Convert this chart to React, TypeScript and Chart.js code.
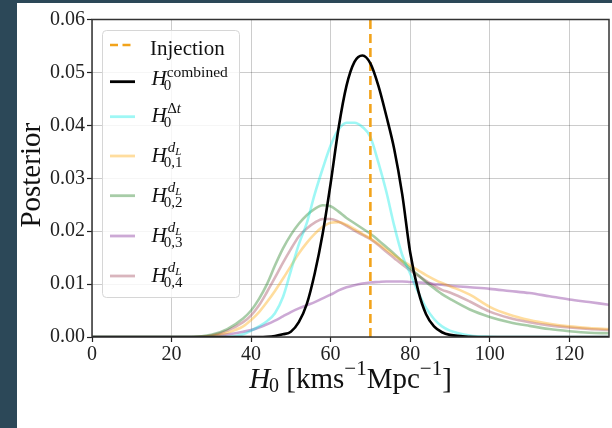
import React, { useEffect, useRef } from 'react';
import { Chart, registerables } from 'chart.js';

Chart.register(...registerables);

// ---------- data ----------
const H0_GRID = [0, 10, 20, 25, 30, 34, 38, 40, 42, 44, 46, 48, 50, 52, 54, 56, 58, 60, 62, 64, 66, 68, 70, 72, 74, 76, 78, 80, 82, 84, 86, 88, 90, 95, 100, 105, 110, 115, 120, 125, 130];

const COMBINED = [0, 0, 0, 0, 0, 0, 0, 0, 0, 0.00005, 0.0002, 0.0005, 0.001, 0.0028, 0.0062, 0.012, 0.0195, 0.029, 0.0395, 0.0475, 0.052, 0.0532, 0.0517, 0.0475, 0.0418, 0.0355, 0.027, 0.016, 0.0088, 0.0043, 0.002, 0.0009, 0.0004, 0.00005, 0, 0, 0, 0, 0, 0, 0];
const DELTA_T = [0, 0, 0, 0, 0, 0, 0.0005, 0.0012, 0.002, 0.003, 0.0045, 0.0075, 0.0125, 0.0175, 0.0215, 0.027, 0.0318, 0.0362, 0.0392, 0.0405, 0.0405, 0.0397, 0.0378, 0.033, 0.0275, 0.021, 0.0155, 0.012, 0.0085, 0.0055, 0.0034, 0.002, 0.0012, 0.0003, 0.00005, 0, 0, 0, 0, 0, 0];
const DL_1 = [0, 0, 0, 0, 0.0002, 0.0008, 0.002, 0.0032, 0.0047, 0.0066, 0.0087, 0.011, 0.0134, 0.0158, 0.0178, 0.0195, 0.0208, 0.0216, 0.0217, 0.0212, 0.0204, 0.0195, 0.0186, 0.0176, 0.0165, 0.0154, 0.0144, 0.0135, 0.0126, 0.0117, 0.0109, 0.0102, 0.0096, 0.008, 0.0057, 0.0042, 0.0032, 0.0025, 0.002, 0.0017, 0.0015];
const DL_2 = [0, 0, 0, 0, 0.0004, 0.0015, 0.0035, 0.005, 0.0072, 0.01, 0.0135, 0.0167, 0.0193, 0.0214, 0.023, 0.0242, 0.0249, 0.0247, 0.0237, 0.0225, 0.0215, 0.0205, 0.0195, 0.0183, 0.017, 0.0157, 0.0143, 0.013, 0.0117, 0.0104, 0.0092, 0.0081, 0.0072, 0.0052, 0.0038, 0.0028, 0.0021, 0.0015, 0.0011, 0.0008, 0.0007];
const DL_3 = [0, 0, 0, 0, 0.0002, 0.0005, 0.001, 0.0013, 0.0018, 0.0024, 0.0031, 0.0039, 0.0047, 0.0054, 0.006, 0.0066, 0.0073, 0.008, 0.0088, 0.0094, 0.0098, 0.0101, 0.0103, 0.0104, 0.0105, 0.0105, 0.0105, 0.0104, 0.0103, 0.0102, 0.01, 0.0099, 0.0097, 0.0094, 0.0091, 0.0087, 0.0083, 0.0077, 0.0071, 0.0066, 0.0061];
const DL_4 = [0, 0, 0, 0, 0.0003, 0.0012, 0.0028, 0.0041, 0.006, 0.0085, 0.0112, 0.014, 0.0166, 0.019, 0.0205, 0.0216, 0.0223, 0.0223, 0.0218, 0.021, 0.0201, 0.0193, 0.0185, 0.0174, 0.0161, 0.0149, 0.0137, 0.0126, 0.0116, 0.0106, 0.0097, 0.0089, 0.0084, 0.0067, 0.0048, 0.0036, 0.0028, 0.0022, 0.0018, 0.0015, 0.0013];

const INJECTION_H0 = 70;
const X_TICKS = [0, 20, 40, 60, 80, 100, 120];
const Y_TICKS = [0, 0.01, 0.02, 0.03, 0.04, 0.05, 0.06];
const SERIES_LABELS = ['Injection', 'H0^combined', 'H0^Δt', 'H0,1^dL', 'H0,2^dL', 'H0,3^dL', 'H0,4^dL'];
const SERIES_COLORS = ['#f2a31b', '#000000', 'rgba(0,235,230,0.38)', 'rgba(255,165,0,0.38)', 'rgba(34,128,34,0.4)', 'rgba(128,40,150,0.4)', 'rgba(160,70,90,0.4)'];

// ---------- helpers ----------
const SERIF = '"Liberation Serif", "DejaVu Serif", serif';
const fnt = (size: number, italic = false) => `${italic ? 'italic ' : ''}${size}px ${SERIF}`;

function drawLegendLabel(ctx: CanvasRenderingContext2D, label: string, x: number, y: number) {
  const m = label.match(/^H([^\^]+)\^(.+)$/);
  ctx.fillStyle = '#111';
  ctx.textAlign = 'left';
  ctx.textBaseline = 'alphabetic';
  if (!m) {
    ctx.font = fnt(21);
    ctx.fillText(label, x, y);
    return;
  }
  const sub = m[1];
  const sup = m[2];
  ctx.font = fnt(21, true);
  ctx.fillText('H', x + 1.5, y);
  const xs = x + 1.5 + ctx.measureText('H').width;
  const supShift = sup === 'dL' ? 10 : 8.5;
  if (sup === 'dL') {
    ctx.font = fnt(15, true);
    ctx.fillText('d', xs + 1, y - supShift);
    const w = ctx.measureText('d').width;
    ctx.font = fnt(11, true);
    ctx.fillText('L', xs + 1 + w, y - supShift + 3);
  } else if (sup === 'Δt') {
    ctx.font = fnt(15);
    ctx.fillText('Δ', xs + 0.5, y - supShift);
    const w = ctx.measureText('Δ').width;
    ctx.font = fnt(15, true);
    ctx.fillText('t', xs + 0.5 + w, y - supShift);
  } else {
    ctx.font = fnt(15.5);
    ctx.fillText(sup, xs, y - supShift);
  }
  ctx.font = fnt(15);
  ctx.fillText(sub, xs - 3, y + 5);
}

function drawXTitle(ctx: CanvasRenderingContext2D, cx: number, y: number) {
  const segs: { t: string; size: number; italic?: boolean; dy: number; dx: number }[] = [
    { t: 'H', size: 29, italic: true, dy: 0, dx: 0 },
    { t: '0', size: 20, dy: 4, dx: -1 },
    { t: ' [kms', size: 29, dy: 0, dx: 0 },
    { t: '−1', size: 21, dy: -13, dx: 0 },
    { t: 'Mpc', size: 29, dy: 0, dx: 0 },
    { t: '−1', size: 21, dy: -13, dx: 0 },
    { t: ']', size: 29, dy: 0, dx: 0 },
  ];
  let total = 0;
  for (const s of segs) {
    ctx.font = fnt(s.size, s.italic);
    total += ctx.measureText(s.t).width + s.dx;
  }
  let x = cx - total / 2;
  ctx.fillStyle = '#111';
  ctx.textAlign = 'left';
  ctx.textBaseline = 'alphabetic';
  for (const s of segs) {
    ctx.font = fnt(s.size, s.italic);
    x += s.dx;
    ctx.fillText(s.t, x, y + s.dy);
    x += ctx.measureText(s.t).width;
  }
}

const decorPlugin = {
  id: 'decor',
  afterDraw(chart: any) {
    const ctx: CanvasRenderingContext2D = chart.ctx;
    const a = chart.chartArea;
    ctx.save();
    // frame
    ctx.strokeStyle = '#333';
    ctx.lineWidth = 1.5;
    ctx.strokeRect(a.left, a.top, a.right - a.left, a.bottom - a.top);

    // y title
    ctx.save();
    ctx.translate(23, (a.top + a.bottom) / 2 - 3);
    ctx.rotate(-Math.PI / 2);
    ctx.font = fnt(29);
    ctx.fillStyle = '#111';
    ctx.textAlign = 'center';
    ctx.textBaseline = 'alphabetic';
    ctx.fillText('Posterior', 0, 0);
    ctx.restore();

    // x title
    drawXTitle(ctx, (a.left + a.right) / 2, a.bottom + 51);

    // legend
    const lx = a.left + 10;
    const ly = a.top + 10.5;
    const lw = 137;
    const lh = 267;
    ctx.beginPath();
    (ctx as any).roundRect(lx + 0.5, ly + 0.5, lw, lh, 4);
    ctx.fillStyle = 'rgba(255,255,255,0.82)';
    ctx.fill();
    ctx.strokeStyle = '#d6d6d6';
    ctx.lineWidth = 1;
    ctx.stroke();

    const rowSwatch = [15, 51.7, 86.7, 126, 165.7, 206, 246];
    const rowBase = [25, 55, 91.7, 131.7, 171.5, 211.7, 251.7];
    SERIES_LABELS.forEach((lab, i) => {
      const sy = ly + rowSwatch[i];
      ctx.beginPath();
      ctx.strokeStyle = SERIES_COLORS[i];
      ctx.lineWidth = i === 0 ? 2.5 : 2.8;
      ctx.setLineDash(i === 0 ? [8, 4.5] : []);
      ctx.moveTo(lx + 8, sy);
      ctx.lineTo(lx + 33, sy);
      ctx.stroke();
      ctx.setLineDash([]);
      drawLegendLabel(ctx, lab, lx + 48, ly + rowBase[i]);
    });
    ctx.restore();
  },
};

export default function App() {
  const ref = useRef<HTMLCanvasElement | null>(null);

  useEffect(() => {
    if (!ref.current) return;
    const mk = (vals: number[]) => H0_GRID.map((h, i) => ({ x: h, y: vals[i] }));
    const curve = (i: number, vals: number[], order: number, width = 2.6) => ({
      label: SERIES_LABELS[i],
      data: mk(vals),
      borderColor: SERIES_COLORS[i],
      borderWidth: width,
      pointRadius: 0,
      fill: false,
      cubicInterpolationMode: 'monotone' as const,
      order,
    });
    const chart = new Chart(ref.current, {
      type: 'line',
      data: {
        datasets: [
          {
            label: SERIES_LABELS[0],
            data: [{ x: INJECTION_H0, y: 0 }, { x: INJECTION_H0, y: 0.06 }],
            borderColor: SERIES_COLORS[0],
            borderWidth: 2.6,
            borderDash: [9, 5],
            pointRadius: 0,
            fill: false,
            order: 1,
          },
          curve(1, COMBINED, 0, 2.6),
          curve(2, DELTA_T, 2),
          curve(3, DL_1, 3),
          curve(4, DL_2, 4),
          curve(5, DL_3, 5),
          curve(6, DL_4, 6),
        ],
      },
      options: {
        responsive: false,
        animation: false,
        events: [],
        layout: { padding: { left: 0, right: 3, top: 16.5, bottom: 0 } },
        plugins: { legend: { display: false }, tooltip: { enabled: false }, title: { display: false } },
        scales: {
          x: {
            type: 'linear',
            min: 0,
            max: 130,
            afterBuildTicks: (s: any) => {
              s.ticks = X_TICKS.map((v) => ({ value: v }));
            },
            afterFit: (s: any) => {
              s.height = 91;
              s.paddingLeft = 0;
              s.paddingRight = 0;
            },
            border: { display: false },
            grid: { color: 'rgba(0,0,0,0.2)', lineWidth: 1, tickColor: '#222', tickLength: 5, tickWidth: 1.2 },
            ticks: {
              autoSkip: false,
              maxRotation: 0,
              padding: 1,
              color: '#222',
              font: { family: SERIF, size: 20 },
              callback: (v: any) => String(v),
            },
          },
          y: {
            type: 'linear',
            min: 0,
            max: 0.06,
            afterBuildTicks: (s: any) => {
              s.ticks = Y_TICKS.map((v) => ({ value: v }));
            },
            afterFit: (s: any) => {
              s.width = 75;
              s.paddingTop = 0;
              s.paddingBottom = 0;
            },
            border: { display: false },
            grid: { color: 'rgba(0,0,0,0.2)', lineWidth: 1, tickColor: '#222', tickLength: 5, tickWidth: 1.2 },
            ticks: {
              padding: 2,
              color: '#222',
              font: { family: SERIF, size: 20 },
              callback: (v: any) => Number(v).toFixed(2),
            },
          },
        },
      },
      plugins: [decorPlugin],
    });
    return () => chart.destroy();
  }, []);

  return (
    <div style={{ position: 'fixed', left: 0, top: 0, width: 612, height: 428, background: '#2c4858', overflow: 'hidden' }}>
      <div style={{ position: 'absolute', left: 17, top: 3, width: 595, height: 425, background: '#ffffff' }}>
        <canvas ref={ref} width={595} height={425} style={{ display: 'block' }} />
      </div>
    </div>
  );
}
